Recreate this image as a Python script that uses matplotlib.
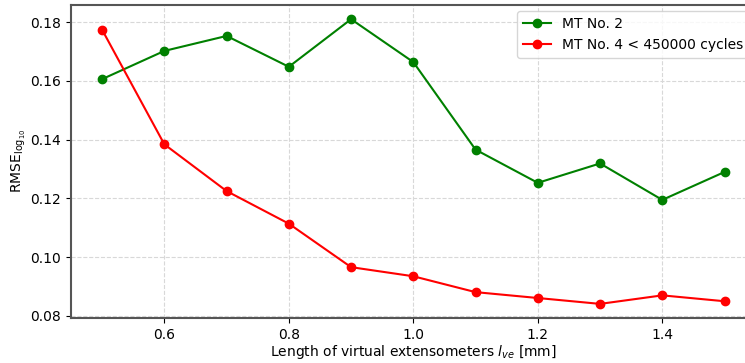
import matplotlib
matplotlib.use("Agg")
import matplotlib.pyplot as plt

ve_lengths = [0.5, 0.6, 0.7, 0.8, 0.9, 1.0, 1.1, 1.2, 1.3, 1.4, 1.5]
rmse_mt2 = [0.1606, 0.1702, 0.1753, 0.1648, 0.1810, 0.1664, 0.1366, 0.1253, 0.1319, 0.1195, 0.1290]
rmse_mt4 = [0.1774, 0.1384, 0.1225, 0.1114, 0.0966, 0.0935, 0.0881, 0.0861, 0.0841, 0.0870, 0.0850]

fig = plt.figure(figsize=(7.45, 3.63), dpi=100)
ax = fig.add_axes([0.0953, 0.124, 0.919, 0.8636])

ax.plot(ve_lengths, rmse_mt2, marker="o", color="green", label="MT No. 2")
ax.plot(ve_lengths, rmse_mt4, marker="o", color="red", label="MT No. 4 < 450000 cycles")

ax.set_xlabel(r"Length of virtual extensometers $l_{ve}$ [mm]", labelpad=1)
ax.set_ylabel(r"RMSE$_{\log_{10}}$", labelpad=2)
ax.set_xticks([0.6, 0.8, 1.0, 1.2, 1.4])
ax.set_yticks([0.08, 0.10, 0.12, 0.14, 0.16, 0.18])
ax.set_ylim(0.0793, 0.186)
ax.grid(True, linestyle="--", color="#d8d8d8", linewidth=0.8)
for spine in ax.spines.values():
    spine.set_color("#555555")
    spine.set_linewidth(1.5)
ax.legend(loc="upper right")

fig.savefig("out.png", dpi=100)
